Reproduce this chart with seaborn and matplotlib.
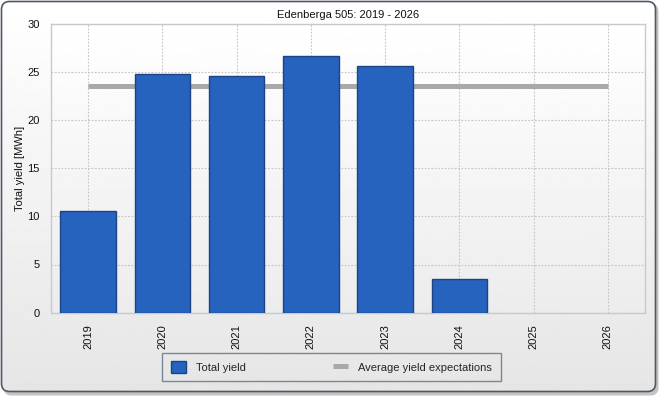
import numpy as np
import pandas as pd
import matplotlib
matplotlib.use("Agg")
import matplotlib.pyplot as plt
import seaborn as sns
from matplotlib.patches import FancyBboxPatch, Rectangle
from matplotlib.lines import Line2D

# ---- data ----
years = ["2019", "2020", "2021", "2022", "2023", "2024", "2025", "2026"]
total_yield = [10.5, 24.8, 24.6, 26.6, 25.6, 3.45, np.nan, np.nan]
avg_expectation = [23.5, 23.5, 23.5, 23.5, 23.5, 23.5, 23.5, 23.5]
title = "Edenberga 505: 2019 - 2026"
ylabel = "Total yield [MWh]"
yticks = [0, 5, 10, 15, 20, 25, 30]

sns.set_theme(style="white")
plt.rcParams["font.family"] = ["Liberation Sans", "DejaVu Sans"]

BAR = "#2563be"
BAR_EDGE = "#1c4485"
AVG = "#a9a9a9"
TXT = "#111111"
FS = 8
AVG_LW = 3.6

fig = plt.figure(figsize=(6.62, 4.0), dpi=100)
fig.patch.set_facecolor("white")

# background gradient + rounded frame
bg = fig.add_axes([0, 0, 1, 1], zorder=-10)
bg.set_axis_off()
grad = np.linspace(1.0, 0.90, 256).reshape(-1, 1)
bg.set_xlim(0, 662)
bg.set_ylim(400, 0)
bg.add_patch(FancyBboxPatch((3.5, 3.5), 655, 392, boxstyle="round,pad=0,rounding_size=8",
                            facecolor="#c4c4c4", edgecolor="none", zorder=0))
frame = FancyBboxPatch((1.5, 1.5), 654, 390, boxstyle="round,pad=0,rounding_size=8",
                       facecolor="none", edgecolor="#4f5964", linewidth=1.2, zorder=3)
im = bg.imshow(grad, cmap="gray", vmin=0, vmax=1, aspect="auto",
               extent=(1.5, 655.5, 391.5, 1.5), zorder=1)
clip = FancyBboxPatch((1.5, 1.5), 654, 390, boxstyle="round,pad=0,rounding_size=8",
                      facecolor="none", edgecolor="none", transform=bg.transData)
bg.add_patch(clip)
im.set_clip_path(clip)
bg.add_patch(frame)

ax = fig.add_axes([51 / 662, 1 - 312.7 / 400, 594 / 662, 289.2 / 400])
ax.set_facecolor("none")
pgrad = np.linspace(1.0, 0.925, 256).reshape(-1, 1)
ax.imshow(pgrad, cmap="gray", vmin=0, vmax=1, aspect="auto",
          extent=(-0.5, 7.5, 0, 30), zorder=-5)

sns.lineplot(x=np.arange(len(years)), y=avg_expectation, color=AVG, linewidth=AVG_LW,
             ax=ax, zorder=2)
for l in ax.lines:
    l.set_solid_capstyle("butt")

df = pd.DataFrame({"year": years, "yield": total_yield})
sns.barplot(data=df, x="year", y="yield", order=years, color=BAR, saturation=1,
            width=0.75, edgecolor=BAR_EDGE, linewidth=1.0, ax=ax, zorder=3)

ax.set_xlim(-0.5, 7.5)
ax.set_ylim(0, 30)
ax.set_yticks(yticks)
ax.set_yticklabels([str(t) for t in yticks], fontsize=FS, color=TXT)
ax.set_xticks(range(len(years)))
ax.set_xticklabels(years, rotation=90, fontsize=FS, color=TXT)
ax.tick_params(axis="both", length=5, width=0.8, color="#cccccc", pad=3)
ax.set_xlabel("")
ax.set_ylabel(ylabel, fontsize=FS, color=TXT)
ax.yaxis.set_label_coords((25 - 51) / 594, 0.5)
ax.set_title(title, fontsize=FS, color=TXT, pad=4)

ax.grid(True, linestyle=(0, (1.5, 1.5)), color="#c4c4c4", linewidth=0.8, zorder=0)
ax.set_axisbelow(True)
for s in ax.spines.values():
    s.set_color("#c6cacf")
    s.set_linewidth(1.0)
    s.set_visible(True)

handles = [Rectangle((0, 0), 1, 1, facecolor=BAR, edgecolor=BAR_EDGE, linewidth=1.0),
           Line2D([0], [0], color=AVG, linewidth=AVG_LW, solid_capstyle="butt")]
leg = fig.legend(handles, ["Total yield", "Average yield expectations"],
                 loc="center", bbox_to_anchor=(331.5 / 662, 1 - 367 / 400),
                 ncol=2, fontsize=FS, frameon=True, fancybox=False,
                 handlelength=1.4, handleheight=1.2, columnspacing=7.8,
                 borderpad=0.75, handletextpad=0.9)
leg.get_frame().set_edgecolor("#5f6f80")
leg.get_frame().set_facecolor("none")
leg.get_frame().set_linewidth(1.0)

fig.savefig("out.png", dpi=100)
